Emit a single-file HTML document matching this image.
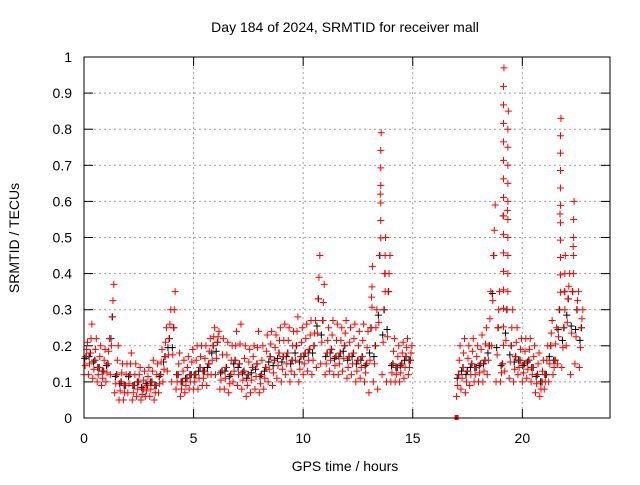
<!DOCTYPE html>
<html><head><meta charset="utf-8"><style>
body{margin:0;background:#fff}
svg text{font-family:"Liberation Sans",sans-serif;font-size:14px;fill:#000}
</style></head><body>
<svg id="c" width="640" height="480" viewBox="0 0 640 480" xmlns="http://www.w3.org/2000/svg">
<rect width="640" height="480" fill="#fff"/>
<g id="grid"></g>
<g id="axes"></g>
<g id="marks"></g>
<rect x="84" y="57" width="526" height="361" fill="none" stroke="#000" stroke-width="1"/>
<text x="345" y="32" text-anchor="middle">Day 184 of 2024, SRMTID for receiver mall</text>
<text x="345" y="471" text-anchor="middle">GPS time / hours</text>
<text x="19" y="238" text-anchor="middle" transform="rotate(-90 19 238)">SRMTID / TECUs</text>
</svg>
<script>
const xTicks=[0,5,10,15,20];
const yTicks=[0,0.1,0.2,0.3,0.4,0.5,0.6,0.7,0.8,0.9,1];
const yTickLabels=["0","0.1","0.2","0.3","0.4","0.5","0.6","0.7","0.8","0.9","1"];
const seg1Start=0, seg2Start=17.0, step=0.2;
const mid1=[.17,.18,.16,.14,.13,.15,.28,.12,.1,.09,.12,.09,.1,.08,.09,.1,.09,.12,.17,.22,.25,.12,.1,.11,.12,.12,.14,.13,.15,.2,.21,.13,.14,.12,.16,.15,.13,.12,.14,.15,.12,.14,.17,.16,.18,.17,.18,.16,.2,.17,.18,.19,.2,.33,.27,.18,.19,.17,.18,.2,.17,.18,.16,.17,.15,.25,.2,.45,.3,.35,.15,.14,.15,.17,.16];
const hi1=[.21,.26,.22,.2,.19,.22,.37,.2,.15,.15,.18,.15,.14,.13,.14,.16,.15,.19,.25,.3,.35,.18,.16,.17,.19,.2,.2,.2,.22,.25,.24,.22,.21,.2,.24,.26,.2,.19,.2,.24,.2,.23,.24,.23,.25,.26,.25,.24,.28,.25,.26,.27,.27,.45,.37,.25,.27,.26,.25,.27,.25,.26,.24,.26,.24,.42,.3,.79,.5,.45,.22,.2,.21,.22,.2];
const lo1=[.12,.12,.11,.1,.09,.1,.12,.07,.05,.05,.07,.05,.06,.05,.06,.06,.05,.07,.1,.13,.1,.08,.06,.07,.08,.08,.08,.09,.09,.12,.12,.08,.08,.07,.1,.09,.08,.06,.07,.08,.07,.08,.1,.09,.11,.1,.12,.1,.12,.1,.12,.13,.12,.14,.15,.12,.13,.12,.12,.13,.11,.12,.1,.11,.1,.07,.1,.08,.12,.1,.1,.1,.1,.11,.12];
const mid2=[.12,.14,.13,.15,.14,.15,.16,.2,.45,.25,.15,.3,.2,.17,.16,.15,.16,.14,.12,.1,.12,.2,.16,.3,.25,.33,.35,.3,.25];
const hi2=[.2,.22,.2,.22,.2,.23,.25,.35,.59,.35,.97,.85,.3,.25,.22,.22,.22,.2,.18,.16,.2,.27,.25,.83,.45,.4,.6,.35,.3];
const lo2=[.06,.08,.07,.09,.1,.1,.1,.12,.2,.1,.1,.13,.11,.1,.12,.1,.11,.1,.07,.06,.08,.1,.12,.15,.14,.2,.12,.15,.14];
const zeroTimes=[17.0], zeroVals=[0];

const X=t=>84+t*(526/24), Y=v=>418-v*361;
const NS="http://www.w3.org/2000/svg";
const grid=document.getElementById('grid'),axes=document.getElementById('axes'),marks=document.getElementById('marks');
function mk(tag,at,parent){const e=document.createElementNS(NS,tag);for(const k in at)e.setAttribute(k,at[k]);parent.appendChild(e);return e;}
yTicks.forEach((v,i)=>{
  if(v>0&&v<1){const g=mk('line',{x1:84,x2:610,y1:Y(v),y2:Y(v),stroke:'#a0a0a0','stroke-dasharray':'2,3'},grid);
  
  }
  const t=mk('line',{x1:84,x2:93,y1:Y(v),y2:Y(v),stroke:'#000'},axes);
  
  
  mk('line',{x1:601,x2:610,y1:Y(v),y2:Y(v),stroke:'#000'},axes);
  const l=mk('text',{x:72,y:Y(v)+5,'text-anchor':'end'},axes);l.textContent=yTickLabels[i];
  
  
});
xTicks.forEach(v=>{
  if(v>0){const g=mk('line',{x1:X(v),x2:X(v),y1:57,y2:418,stroke:'#a0a0a0','stroke-dasharray':'2,3'},grid);
  
  }
  const t=mk('line',{x1:X(v),x2:X(v),y1:409,y2:418,stroke:'#000'},axes);
  
  
  mk('line',{x1:X(v),x2:X(v),y1:57,y2:66,stroke:'#000'},axes);
  const l=mk('text',{x:X(v),y:443,'text-anchor':'middle'},axes);l.textContent=String(v);
  
  
});
function plus(t,v,col){
  const x=X(t),y=Y(v);
  const p=mk('path',{d:`M${x-3.5} ${y}h7M${x} ${y-3.5}v7`,stroke:col,'stroke-width':1,fill:'none'},marks);
  
  
}
function drawSeg(start,lo,mid,hi){
  mid.forEach((m,i)=>{const t=start+i*step;plus(t+0.1,m,'#000');plus(t+0.03,(lo[i]+m)/2+0.02,'#000');});
  mid.forEach((m,i)=>{
    const t=start+i*step,l=lo[i],h=hi[i];
    plus(t,l,'#f00');plus(t+0.05,(l+m)/2,'#f00');plus(t+0.08,m,'#f00');
    plus(t+0.12,(m+h)/2,'#f00');plus(t+0.16,h,'#f00');
    if(h-m>0.15){const n=Math.round((h-m)/0.05);for(let k=1;k<n;k++)plus(t+0.14,m+(h-m)*k/n,'#f00');}
  });
}
drawSeg(seg1Start,lo1,mid1,hi1);
drawSeg(seg2Start,lo2,mid2,hi2);
zeroTimes.forEach((t,i)=>{const r=mk('rect',{x:X(t)-2,y:Y(zeroVals[i])-3,width:4,height:5,fill:'#f00'},marks);

});
</script>
</body></html>
